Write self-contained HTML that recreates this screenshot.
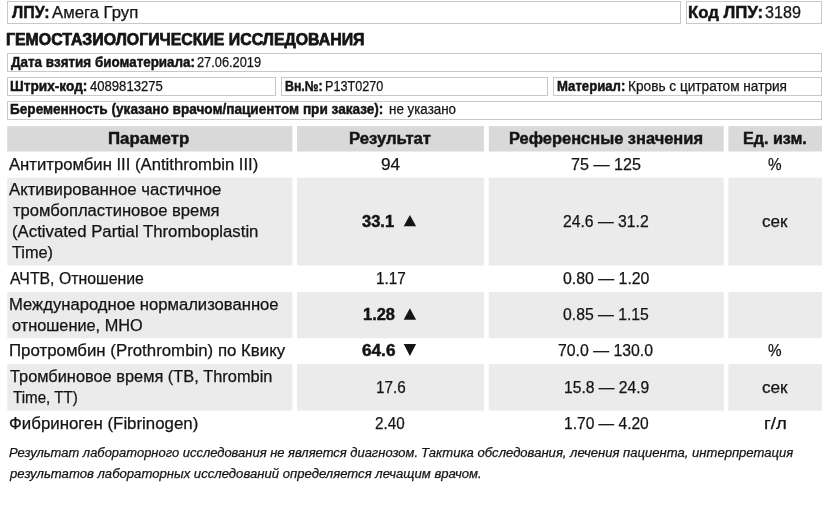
<!DOCTYPE html>
<html lang="ru">
<head>
<meta charset="utf-8">
<title>Гемостазиологические исследования</title>
<style>
html,body{margin:0;padding:0;background:#fff;}
body{width:828px;height:515px;position:relative;overflow:hidden;will-change:transform;font-family:"Liberation Sans", sans-serif;color:#141414;}
.bx{position:absolute;box-sizing:border-box;border:1px solid #c8c8c8;background:#fff;}
.bd{position:absolute;}
.t{position:absolute;white-space:nowrap;line-height:20px;transform-origin:0 50%;margin:0;padding:0;}
.t{-webkit-text-stroke:0.25px #141414;}
.t b{font-weight:bold;-webkit-text-stroke:0.45px #141414;}
.t b.h{-webkit-text-stroke:0.75px #141414;}
.t i{font-style:italic;}
svg{position:absolute;left:0;top:0;}
</style>
</head>
<body>
<div class="bx" style="left:7px;top:1px;width:674px;height:23px"></div>
<div class="bx" style="left:686px;top:1px;width:136px;height:23px"></div>
<div class="bx" style="left:7px;top:53px;width:815px;height:19px"></div>
<div class="bx" style="left:7px;top:77px;width:269px;height:19px"></div>
<div class="bx" style="left:281px;top:77px;width:267px;height:19px"></div>
<div class="bx" style="left:553px;top:77px;width:269px;height:19px"></div>
<div class="bx" style="left:7px;top:101px;width:815px;height:19px"></div>
<svg width="828" height="515" viewBox="0 0 828 515">
<rect x="7.2" y="126.1" width="285.2" height="25.4" fill="#d9d9d9"/>
<rect x="297" y="126.1" width="186.9" height="25.4" fill="#d9d9d9"/>
<rect x="488.8" y="126.1" width="234.9" height="25.4" fill="#d9d9d9"/>
<rect x="728.4" y="126.1" width="93.6" height="25.4" fill="#d9d9d9"/>
<rect x="7.2" y="177.7" width="285.2" height="87.8" fill="#ebebeb"/>
<rect x="297" y="177.7" width="186.9" height="87.8" fill="#ebebeb"/>
<rect x="488.8" y="177.7" width="234.9" height="87.8" fill="#ebebeb"/>
<rect x="728.4" y="177.7" width="93.6" height="87.8" fill="#ebebeb"/>
<rect x="7.2" y="291.9" width="285.2" height="46.3" fill="#ebebeb"/>
<rect x="297" y="291.9" width="186.9" height="46.3" fill="#ebebeb"/>
<rect x="488.8" y="291.9" width="234.9" height="46.3" fill="#ebebeb"/>
<rect x="728.4" y="291.9" width="93.6" height="46.3" fill="#ebebeb"/>
<rect x="7.2" y="364.1" width="285.2" height="46.5" fill="#ebebeb"/>
<rect x="297" y="364.1" width="186.9" height="46.5" fill="#ebebeb"/>
<rect x="488.8" y="364.1" width="234.9" height="46.5" fill="#ebebeb"/>
<rect x="728.4" y="364.1" width="93.6" height="46.5" fill="#ebebeb"/>
</svg>
<div class="t" id="lpuL" style="left:12.10px;top:3px;font-size:16px;transform:scaleX(0.9989);"><b>ЛПУ:</b></div>
<div class="t" id="lpuV" style="left:52.39px;top:3px;font-size:16px;transform:scaleX(1.0440);">Амега Груп</div>
<div class="t" id="kodL" style="left:688.48px;top:3px;font-size:16px;transform:scaleX(1.0481);"><b>Код ЛПУ:</b></div>
<div class="t" id="kodV" style="left:764.57px;top:3px;font-size:16px;transform:scaleX(1.0102);">3189</div>
<div class="t" id="title" style="left:5.84px;top:30px;font-size:17px;transform:scaleX(0.9335);"><b class="h">ГЕМОСТАЗИОЛОГИЧЕСКИЕ ИССЛЕДОВАНИЯ</b></div>
<div class="t" id="dataL" style="left:10.74px;top:52px;font-size:14px;transform:scaleX(0.9582);"><b>Дата взятия биоматериала:</b></div>
<div class="t" id="dataV" style="left:197.15px;top:52px;font-size:14px;transform:scaleX(0.9146);">27.06.2019</div>
<div class="t" id="shtL" style="left:9.60px;top:76px;font-size:14px;transform:scaleX(0.9761);"><b>Штрих-код:</b></div>
<div class="t" id="shtV" style="left:89.73px;top:76px;font-size:14px;transform:scaleX(0.9347);">4089813275</div>
<div class="t" id="vnL" style="left:285.00px;top:76px;font-size:14px;transform:scaleX(0.8808);"><b>Вн.№:</b></div>
<div class="t" id="vnV" style="left:324.82px;top:76px;font-size:14px;transform:scaleX(0.9020);">P13T0270</div>
<div class="t" id="matL" style="left:556.78px;top:76px;font-size:14px;transform:scaleX(0.9394);"><b>Материал:</b></div>
<div class="t" id="matV" style="left:627.79px;top:76px;font-size:14px;transform:scaleX(0.9748);">Кровь с цитратом натрия</div>
<div class="t" id="berL" style="left:9.60px;top:99px;font-size:14px;transform:scaleX(0.9707);"><b>Беременность (указано врачом/пациентом при заказе):</b></div>
<div class="t" id="berV" style="left:388.92px;top:99px;font-size:14px;transform:scaleX(0.9553);">не указано</div>
<div class="t" id="h1" style="left:107.72px;top:129px;font-size:16px;transform:scaleX(1.0527);"><b>Параметр</b></div>
<div class="t" id="h2" style="left:348.64px;top:129px;font-size:16px;transform:scaleX(1.0442);"><b>Результат</b></div>
<div class="t" id="h3" style="left:508.89px;top:129px;font-size:16px;transform:scaleX(1.0268);"><b>Референсные значения</b></div>
<div class="t" id="h4" style="left:743.15px;top:129px;font-size:16px;transform:scaleX(1.0068);"><b>Ед. изм.</b></div>
<div class="t" id="r1" style="left:9.44px;top:155px;font-size:16px;transform:scaleX(1.0424);">Антитромбин III (Antithrombin III)</div>
<div class="t" id="r2a" style="left:9.10px;top:180px;font-size:16px;transform:scaleX(1.0461);">Активированное частичное</div>
<div class="t" id="r2b" style="left:12.82px;top:201px;font-size:16px;transform:scaleX(1.0359);">тромбопластиновое время</div>
<div class="t" id="r2c" style="left:11.99px;top:222px;font-size:16px;transform:scaleX(1.0470);">(Activated Partial Thromboplastin</div>
<div class="t" id="r2d" style="left:11.92px;top:243px;font-size:16px;transform:scaleX(1.0187);">Time)</div>
<div class="t" id="r3" style="left:9.63px;top:269px;font-size:16px;transform:scaleX(0.9896);">АЧТВ, Отношение</div>
<div class="t" id="r4a" style="left:8.68px;top:295px;font-size:16px;transform:scaleX(1.0393);">Международное нормализованное</div>
<div class="t" id="r4b" style="left:11.83px;top:316px;font-size:16px;transform:scaleX(1.0196);">отношение, МНО</div>
<div class="t" id="r5" style="left:9.01px;top:341px;font-size:16px;transform:scaleX(1.0522);">Протромбин (Prothrombin) по Квику</div>
<div class="t" id="r6a" style="left:9.73px;top:367px;font-size:16px;transform:scaleX(1.0227);">Тромбиновое время (ТВ, Thrombin</div>
<div class="t" id="r6b" style="left:12.62px;top:388px;font-size:16px;transform:scaleX(0.9456);">Time, TT)</div>
<div class="t" id="r7" style="left:9.05px;top:414px;font-size:16px;transform:scaleX(1.0532);">Фибриноген (Fibrinogen)</div>
<div class="t" id="v1" style="left:380.68px;top:155px;font-size:16px;transform:scaleX(1.0766);">94</div>
<div class="t" id="v2" style="left:362.21px;top:212px;font-size:16px;transform:scaleX(1.0285);"><b>33.1</b></div>
<div class="t" id="v3" style="left:375.73px;top:269px;font-size:16px;transform:scaleX(0.9574);">1.17</div>
<div class="t" id="v4" style="left:362.75px;top:305px;font-size:16px;transform:scaleX(1.0260);"><b>1.28</b></div>
<div class="t" id="v5" style="left:362.25px;top:341px;font-size:16px;transform:scaleX(1.0739);"><b>64.6</b></div>
<div class="t" id="v6" style="left:375.73px;top:378px;font-size:16px;transform:scaleX(0.9524);">17.6</div>
<div class="t" id="v7" style="left:375.48px;top:414px;font-size:16px;transform:scaleX(0.9515);">2.40</div>
<div class="t" id="f1" style="left:570.53px;top:155px;font-size:16px;transform:scaleX(1.0073);">75 — 125</div>
<div class="t" id="f2" style="left:563.31px;top:212px;font-size:16px;transform:scaleX(0.9822);">24.6 — 31.2</div>
<div class="t" id="f3" style="left:562.69px;top:269px;font-size:16px;transform:scaleX(0.9916);">0.80 — 1.20</div>
<div class="t" id="f4" style="left:562.79px;top:305px;font-size:16px;transform:scaleX(0.9850);">0.85 — 1.15</div>
<div class="t" id="f5" style="left:557.88px;top:341px;font-size:16px;transform:scaleX(0.9889);">70.0 — 130.0</div>
<div class="t" id="f6" style="left:563.70px;top:378px;font-size:16px;transform:scaleX(0.9786);">15.8 — 24.9</div>
<div class="t" id="f7" style="left:563.67px;top:414px;font-size:16px;transform:scaleX(0.9724);">1.70 — 4.20</div>
<div class="t" id="u1" style="left:767.57px;top:155px;font-size:16px;transform:scaleX(0.9537);">%</div>
<div class="t" id="u2" style="left:761.67px;top:212px;font-size:16px;transform:scaleX(1.0658);">сек</div>
<div class="t" id="u5" style="left:767.57px;top:341px;font-size:16px;transform:scaleX(0.9537);">%</div>
<div class="t" id="u6" style="left:761.93px;top:378px;font-size:16px;transform:scaleX(1.0723);">сек</div>
<div class="t" id="u7" style="left:764.14px;top:414px;font-size:16px;transform:scaleX(1.1600);">г/л</div>
<div class="t" id="n1a" style="left:9.12px;top:443px;font-size:13px;transform:scaleX(0.9967);"><i>Результат лабораторного исследования не является диагнозом.</i></div>
<div class="t" id="n1b" style="left:421.02px;top:443px;font-size:13px;transform:scaleX(1.0051);"><i>Тактика обследования, лечения пациента, интерпретация</i></div>
<div class="t" id="n2" style="left:9.89px;top:464px;font-size:13px;transform:scaleX(1.0091);"><i>результатов лабораторных исследований определяется лечащим врачом.</i></div>
<svg width="828" height="515" viewBox="0 0 828 515">
<polygon points="403.7,226.3 416.1,226.3 409.9,215" fill="#141414"/>
<polygon points="403.7,319.7 416.1,319.7 409.9,308.3" fill="#141414"/>
<polygon points="403.7,344 416.1,344 409.9,355.9" fill="#141414"/>
</svg>
</body>
</html>
